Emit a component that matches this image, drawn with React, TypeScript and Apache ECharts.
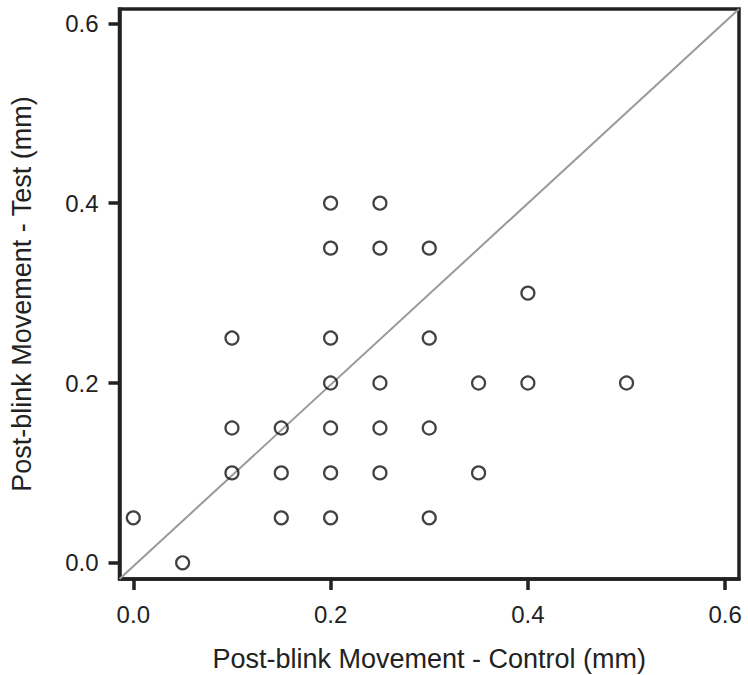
import React, { useEffect, useRef } from "react";
import * as echarts from "echarts";

const controlValues = [0.0, 0.05, 0.1, 0.1, 0.1, 0.15, 0.15, 0.15, 0.2, 0.2, 0.2, 0.2, 0.2, 0.2, 0.2, 0.25, 0.25, 0.25, 0.25, 0.25, 0.3, 0.3, 0.3, 0.3, 0.35, 0.35, 0.4, 0.4, 0.5];
const testValues = [0.05, 0.0, 0.25, 0.15, 0.1, 0.15, 0.1, 0.05, 0.4, 0.35, 0.25, 0.2, 0.15, 0.1, 0.05, 0.4, 0.35, 0.2, 0.15, 0.1, 0.35, 0.25, 0.15, 0.05, 0.2, 0.1, 0.3, 0.2, 0.2];
const xLimits = [-0.014, 0.614];
const yLimits = [-0.018, 0.616];
const tickValues = [0.0, 0.2, 0.4, 0.6];

const xName = "Post-blink Movement - Control (mm)";
const yName = "Post-blink Movement - Test (mm)";

export default function App() {
  const ref = useRef<HTMLDivElement>(null);
  useEffect(() => {
    if (!ref.current) return;
    const chart = echarts.init(ref.current, null, { renderer: "svg" });
    const points = controlValues.map((x, i) => [x, testValues[i]]);
    const font = "'Liberation Sans', Arial, sans-serif";
    const makeAxis = (labelMargin: number) => ({
      type: "value" as const,
      nameLocation: "middle" as const,
      nameTextStyle: { fontFamily: font, fontSize: 27, color: "#222" },
      axisLine: { show: true, onZero: false, lineStyle: { color: "#222", width: 3.5 } },
      axisTick: { show: true, inside: false, length: 11, lineStyle: { color: "#222", width: 3.5 }, customValues: tickValues },
      axisLabel: {
        show: true,
        fontFamily: font,
        fontSize: 24,
        color: "#222",
        margin: labelMargin,
        customValues: tickValues,
        formatter: (v: number) => v.toFixed(1),
      },
      splitLine: { show: false },
    });
    chart.setOption({
      animation: false,
      backgroundColor: "#fff",
      grid: {
        left: 119.5,
        top: 9,
        right: 9,
        bottom: 96,
        show: true,
        borderColor: "#222",
        borderWidth: 3.5,
        outerBoundsMode: "none",
        containLabel: false,
      },
      xAxis: {
        ...makeAxis(23),
        min: xLimits[0],
        max: xLimits[1],
        name: xName,
        nameGap: 66,
      },
      yAxis: {
        ...makeAxis(21),
        min: yLimits[0],
        max: yLimits[1],
        name: yName,
        nameGap: 84,
      },
      series: [
        {
          type: "line",
          data: [
            [xLimits[0], yLimits[0]],
            [xLimits[1], yLimits[1]],
          ],
          symbol: "none",
          lineStyle: { color: "#999", width: 2 },
          silent: true,
          z: 1,
        },
        {
          type: "scatter",
          data: points,
          symbol: "circle",
          symbolSize: 13,
          itemStyle: { color: "rgba(255,255,255,0)", borderColor: "#111", borderWidth: 2.2 },
          z: 2,
        },
      ],
    });
    return () => chart.dispose();
  }, []);
  return <div ref={ref} style={{ width: 748, height: 675, position: "absolute", left: 0, top: 0 }} />;
}
